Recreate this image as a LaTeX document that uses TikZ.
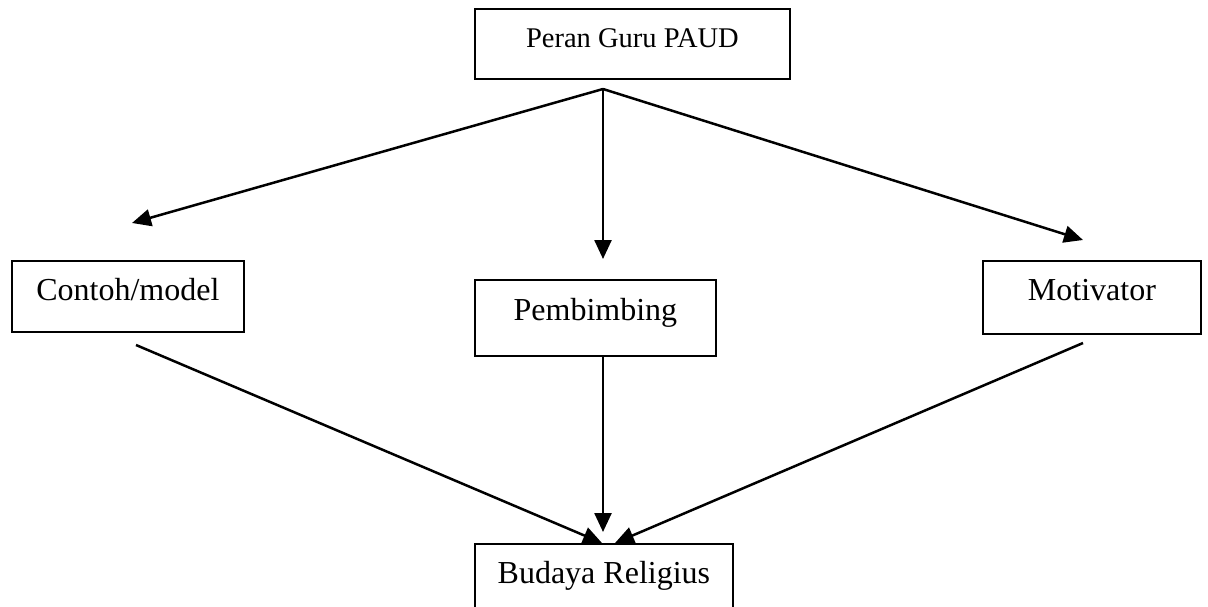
\documentclass[tikz,border=0pt]{standalone}
\usepackage{fontspec}
\setmainfont{Liberation Serif}
\usetikzlibrary{arrows.meta}
\tikzset{
  boxnode/.style={draw, line width=1.8pt, inner sep=0pt, anchor=north west,
    font=\fontsize{32}{36}\selectfont, align=center},
  topfont/.style={font=\fontsize{28.5}{32}\selectfont},
  conn/.style={line width=2.5pt, -{Triangle[length=19pt,width=17pt]}}
}
\begin{document}
\begin{tikzpicture}[x=1pt,y=-1pt]
\path[use as bounding box, clip] (0,0) rectangle (1208,607);
\node[boxnode, topfont, minimum width=315pt, text height=39pt, text depth=31pt] (peran) at (474,8) {Peran Guru PAUD};
\node[boxnode, minimum width=232pt, text height=40pt, text depth=31pt] (contoh) at (11,260) {Contoh/model};
\node[boxnode, minimum width=241pt, text height=41pt, text depth=35pt] (pemb) at (474,279) {Pembimbing};
\node[boxnode, minimum width=218pt, text height=40pt, text depth=33pt] (motiv) at (982,260) {Motivator};
\node[boxnode, minimum width=258pt, text height=40pt, text depth=37pt] (budaya) at (474,543) {Budaya Religius};
\coordinate (apex) at (603,89);
\coordinate (tc) at (132,223);
\coordinate (tp) at (603,259);
\coordinate (tm) at (1083,240);
\coordinate (sc) at (136,345);
\coordinate (sm) at (1083,343);
\coordinate (bl) at (602,543);
\coordinate (bm) at (603,532);
\coordinate (br) at (615,543);
\draw[conn] (apex) -- (tc);
\draw[conn] (apex) -- (tp);
\draw[conn] (apex) -- (tm);
\draw[conn] (sc) -- (bl);
\draw[conn] (pemb.south -| bm) -- (bm);
\draw[conn] (sm) -- (br);
\end{tikzpicture}
\end{document}
